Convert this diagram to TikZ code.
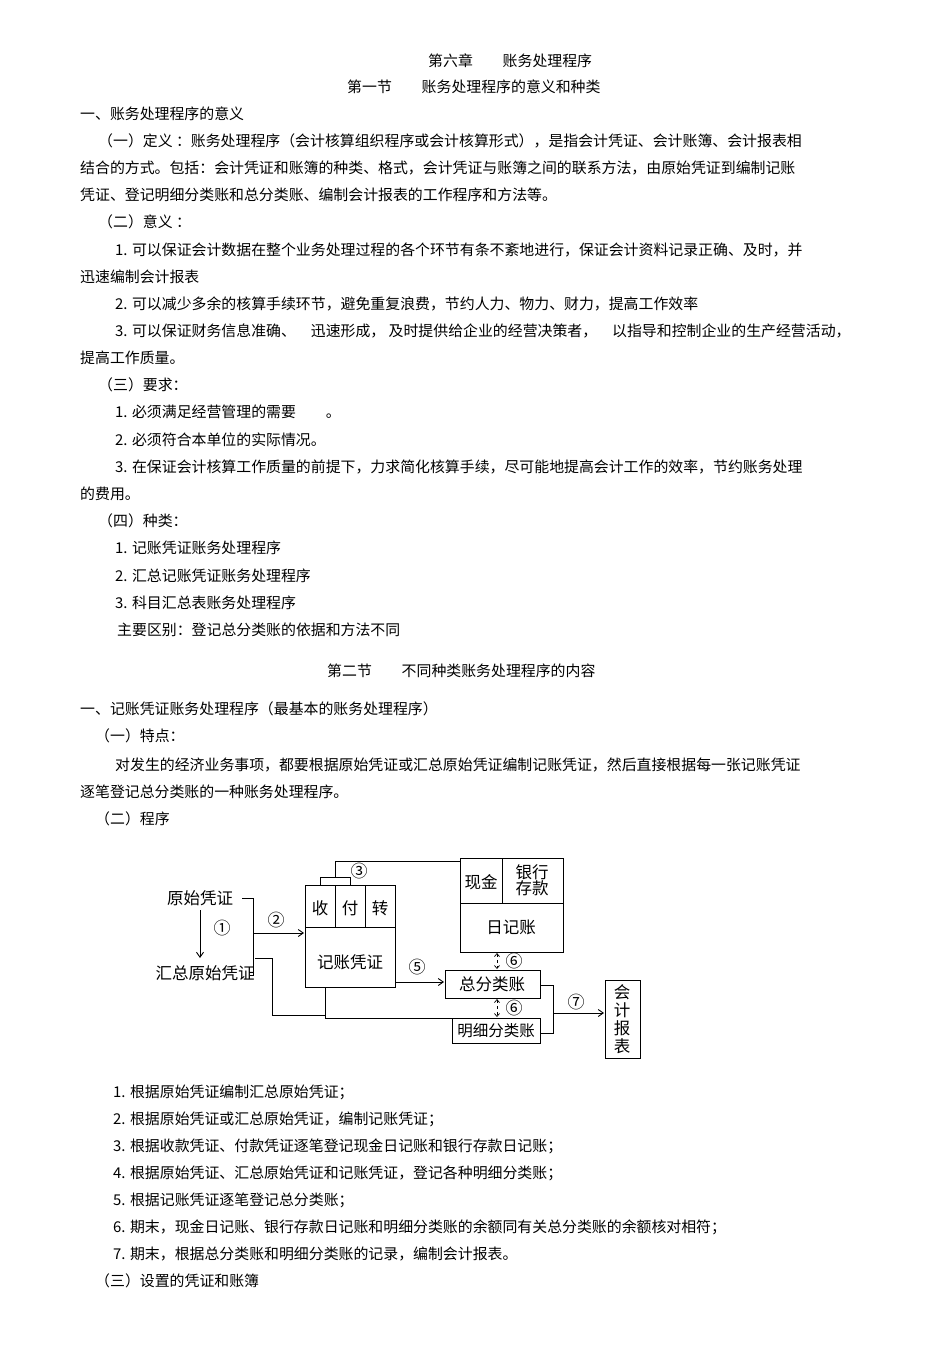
\documentclass[tikz,border=0pt]{standalone}
\usepackage{fontspec}
\setmainfont{Noto Sans CJK SC}
\usetikzlibrary{arrows.meta}
\begin{document}
\begin{tikzpicture}[x=1pt,y=-1pt,
  t/.style={anchor=west,inner sep=0pt,font=\fontsize{14.9}{16}\selectfont},
  d/.style={inner sep=0pt,font=\fontsize{16.5}{18}\selectfont},
  c/.style={inner sep=0pt,font=\fontsize{17}{18}\selectfont},
  ln/.style={line width=0.9pt},
  ar/.style={ln,-{Straight Barb[length=5pt,width=7pt]}},
  da/.style={line width=0.7pt,dashed,{Straight Barb[length=3pt,width=5pt]}-{Straight Barb[length=3pt,width=5pt]}}]
\useasboundingbox (0,0) rectangle (950,1345);
\fill[white] (0,0) rectangle (950,1345);
\node[t] (l1) at (428,61) {第六章\quad\quad 账务处理程序};
\node[t] (l2) at (347,87) {第一节\quad\quad 账务处理程序的意义和种类};
\node[t] (l3) at (80,114) {一、账务处理程序的意义};
\node[t] (l4) at (98,141) {（一）定义 ：账务处理程序（会计核算组织程序或会计核算形式），是指会计凭证、会计账簿、会计报表相};
\node[t] (l5) at (80,168) {结合的方式。包括：会计凭证和账簿的种类、格式，会计凭证与账簿之间的联系方法，由原始凭证到编制记账};
\node[t] (l6) at (80,195) {凭证、登记明细分类账和总分类账、编制会计报表的工作程序和方法等。};
\node[t] (l7) at (98,222) {（二）意义 ：};
\node[t] (l8) at (115,250) {1. 可以保证会计数据在整个业务处理过程的各个环节有条不紊地进行，保证会计资料记录正确、及时，并};
\node[t] (l9) at (80,277) {迅速编制会计报表};
\node[t] (l10) at (115,304) {2. 可以减少多余的核算手续环节，避免重复浪费，节约人力、物力、财力，提高工作效率};
\node[t] (l11) at (115,331) {3. 可以保证财务信息准确、\quad 迅速形成，\ 及时提供给企业的经营决策者，\quad 以指导和控制企业的生产经营活动，};
\node[t] (l12) at (80,358) {提高工作质量。};
\node[t] (l13) at (98,385) {（三）要求：};
\node[t] (l14) at (115,412) {1. 必须满足经营管理的需要\quad\quad 。};
\node[t] (l15) at (115,440) {2. 必须符合本单位的实际情况。};
\node[t] (l16) at (115,467) {3. 在保证会计核算工作质量的前提下，力求简化核算手续，尽可能地提高会计工作的效率，节约账务处理};
\node[t] (l17) at (80,494) {的费用。};
\node[t] (l18) at (98,521) {（四）种类：};
\node[t] (l19) at (115,548) {1. 记账凭证账务处理程序};
\node[t] (l20) at (115,576) {2. 汇总记账凭证账务处理程序};
\node[t] (l21) at (115,603) {3. 科目汇总表账务处理程序};
\node[t] (l22) at (117,630) {主要区别：登记总分类账的依据和方法不同};
\node[t] (l23) at (327,671) {第二节\quad\quad 不同种类账务处理程序的内容};
\node[t] (l24) at (80,709) {一、记账凭证账务处理程序（最基本的账务处理程序）};
\node[t] (l25) at (95,736) {（一）特点：};
\node[t] (l26) at (115,765) {对发生的经济业务事项，都要根据原始凭证或汇总原始凭证编制记账凭证，然后直接根据每一张记账凭证};
\node[t] (l27) at (80,792) {逐笔登记总分类账的一种账务处理程序。};
\node[t] (l28) at (95,819) {（二）程序};
\node[t] (m1) at (113,1092) {1. 根据原始凭证编制汇总原始凭证；};
\node[t] (m2) at (113,1119) {2. 根据原始凭证或汇总原始凭证，编制记账凭证；};
\node[t] (m3) at (113,1146) {3. 根据收款凭证、付款凭证逐笔登记现金日记账和银行存款日记账；};
\node[t] (m4) at (113,1173) {4. 根据原始凭证、汇总原始凭证和记账凭证，登记各种明细分类账；};
\node[t] (m5) at (113,1200) {5. 根据记账凭证逐笔登记总分类账；};
\node[t] (m6) at (113,1227) {6. 期末，现金日记账、银行存款日记账和明细分类账的余额同有关总分类账的余额核对相符；};
\node[t] (m7) at (113,1254) {7. 期末，根据总分类账和明细分类账的记录，编制会计报表。};
\node[t] (m8) at (95,1281) {（三）设置的凭证和账簿};
% diagram
\node[d] (ys) at (200,898) {原始凭证};
\node[d] (hz) at (205,973) {汇总原始凭证};
\draw[ar] (200,910) -- (200,958);
\node[c] (c1) at (222,928) {①};
\draw[ln] (242,898) -- (253,898) -- (253,975) -- (250,975);
\draw[ar] (253,933) -- (304,933);
\node[c] (c2) at (276,920) {②};
\node[draw,ln,minimum width=90pt,minimum height=102pt,anchor=north west,inner sep=0pt] (jz) at (305,885) {};
\draw[ln] (305,927) -- (395,927) (335,885) -- (335,927) (365,885) -- (365,927);
\node[d] at (320,908) {收};
\node[d] at (350,908) {付};
\node[d] at (380,908) {转};
\node[d] at (350,962) {记账凭证};
\node[draw,ln,minimum width=103pt,minimum height=94pt,anchor=north west,inner sep=0pt] (rj) at (460,858) {};
\draw[ln] (460,903) -- (563,903) (502,858) -- (502,903);
\node[d] at (481,882) {现金};
\node[d,align=center,font=\fontsize{16.5}{16}\selectfont] at (532,880) {银行\\存款};
\node[d] at (511,927) {日记账};
\draw[ln] (320,885) -- (320,877) -- (350,877) -- (350,885);
\draw[ln] (335,877) -- (335,861) -- (460,861);
\node[c] (c3) at (359,871) {③};
\node[draw,ln,minimum width=95pt,minimum height=28pt,anchor=north west,inner sep=0pt] (zf) at (445,970) {};
\node[d] at (492,984) {总分类账};
\node[draw,ln,minimum width=88pt,minimum height=25pt,anchor=north west,inner sep=0pt] (mx) at (452,1018) {};
\node[d,font=\fontsize{15.5}{16}\selectfont] at (496,1031) {明细分类账};
\draw[ar] (395,982) -- (444,982);
\node[c] (c5) at (417,967) {⑤};
\draw[da] (497,953) -- (497,969);
\node[c] (c6a) at (514,961) {⑥};
\draw[da] (497,999) -- (497,1017);
\node[c] (c6b) at (514,1008) {⑥};
\draw[ln] (255,958) -- (272,958) -- (272,1015) -- (325,1015);
\draw[ln] (325,987) -- (325,1018) -- (452,1018);
\draw[ln] (540,985) -- (553,985) -- (553,1033) -- (540,1033);
\draw[ar] (553,1013) -- (604,1013);
\node[c] (c7) at (576,1002) {⑦};
\node[draw,ln,minimum width=35pt,minimum height=78pt,anchor=north west,inner sep=0pt] (kb) at (605,980) {};
\node[d,align=center,font=\fontsize{16.5}{18}\selectfont] at (622,1019) {会\\计\\报\\表};
\end{tikzpicture}
\end{document}
